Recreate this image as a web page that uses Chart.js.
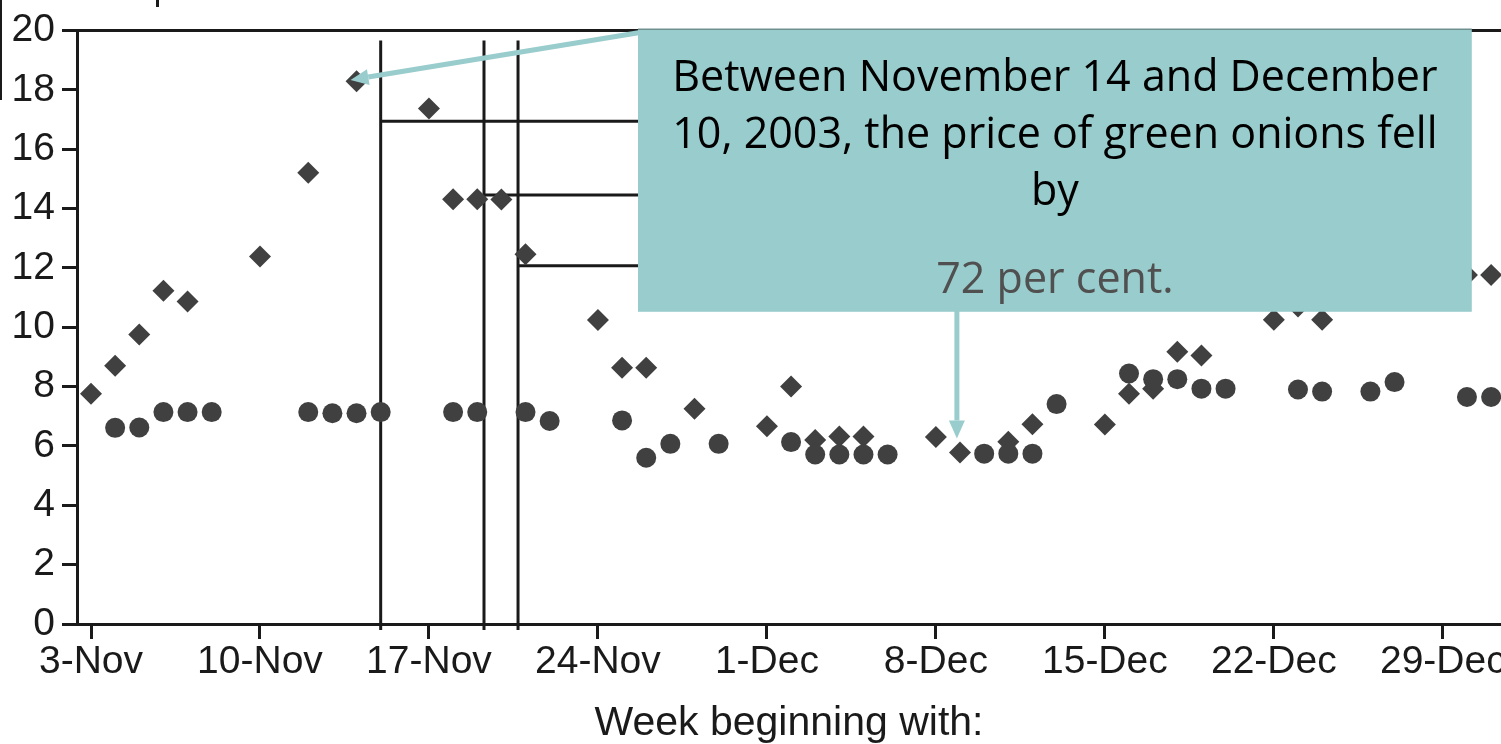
<!DOCTYPE html>
<html>
<head>
<meta charset="utf-8">
<title>Green onion prices</title>
<script src="https://cdn.jsdelivr.net/npm/chart.js@4"></script>
<style>
  html, body { margin: 0; padding: 0; background: #fff; }
  #wrap { width: 1501px; height: 744px; position: relative; overflow: hidden; }
</style>
</head>
<body>
<div id="wrap"><canvas id="onionChart"></canvas></div>
<script>
// daily green onion prices, Nov 3 - Dec 31 2003
const startDate = '2003-11-03';

const diamondDates = [
  '2003-11-03', '2003-11-04', '2003-11-05', '2003-11-06', '2003-11-07', '2003-11-10',
  '2003-11-12', '2003-11-14', '2003-11-17', '2003-11-18', '2003-11-19', '2003-11-20',
  '2003-11-21', '2003-11-24', '2003-11-25', '2003-11-26', '2003-11-28', '2003-12-01',
  '2003-12-02', '2003-12-03', '2003-12-04', '2003-12-05', '2003-12-08', '2003-12-09',
  '2003-12-11', '2003-12-12', '2003-12-15', '2003-12-16', '2003-12-17', '2003-12-18',
  '2003-12-19', '2003-12-22', '2003-12-23', '2003-12-24', '2003-12-30', '2003-12-31'
];
const diamondPrices = [
  7.76, 8.7, 9.75, 11.23, 10.87, 12.38,
  15.2, 18.29, 17.37, 14.31, 14.31, 14.3,
  12.46, 10.24, 8.63, 8.63, 7.25, 6.66,
  8.0, 6.2, 6.32, 6.32, 6.3, 5.78,
  6.14, 6.73, 6.72, 7.76, 7.93, 9.17,
  9.05, 10.25, 10.7, 10.25, 11.76, 11.76
];

const circleDates = [
  '2003-11-04', '2003-11-05', '2003-11-06', '2003-11-07', '2003-11-08', '2003-11-12',
  '2003-11-13', '2003-11-14', '2003-11-15', '2003-11-18', '2003-11-19', '2003-11-21',
  '2003-11-22', '2003-11-25', '2003-11-26', '2003-11-27', '2003-11-29', '2003-12-02',
  '2003-12-03', '2003-12-04', '2003-12-05', '2003-12-06', '2003-12-10', '2003-12-11',
  '2003-12-12', '2003-12-13', '2003-12-16', '2003-12-17', '2003-12-18', '2003-12-19',
  '2003-12-20', '2003-12-23', '2003-12-24', '2003-12-26', '2003-12-27', '2003-12-30',
  '2003-12-31'
];
const circlePrices = [
  6.61, 6.62, 7.14, 7.14, 7.14, 7.14,
  7.1, 7.1, 7.14, 7.14, 7.14, 7.14,
  6.84, 6.86, 5.6, 6.07, 6.07, 6.13,
  5.71, 5.71, 5.71, 5.71, 5.74, 5.74,
  5.74, 7.41, 8.44, 8.25, 8.25, 7.93,
  7.93, 7.9, 7.83, 7.83, 8.15, 7.65,
  7.65
];

const weekLabels = ['3-Nov', '10-Nov', '17-Nov', '24-Nov', '1-Dec', '8-Dec', '15-Dec', '22-Dec', '29-Dec'];
const xTitle = 'Week beginning with:';

const calloutLines = ['Between November 14 and December', '10, 2003, the price of green onions fell', 'by'];
const calloutFigure = '72 per cent.';

// day number counted from Nov 3
function dayOf(d) {
  return (Date.parse(d) - Date.parse(startDate)) / 86400000;
}

const diamondPoints = diamondDates.map((d, i) => ({ x: dayOf(d), y: diamondPrices[i] }));
const circlePoints = circleDates.map((d, i) => ({ x: dayOf(d), y: circlePrices[i] }));

const ink = '#1a1a1a';
const dots = '#404040';
const teal = '#99cccc';
const axisFont = { family: '"Liberation Sans", Arial, sans-serif', size: 39 };
const titleFont = { family: '"Liberation Sans", Arial, sans-serif', size: 41 };

// stray table rules and callout, placed in data units
const ruleVerticals = [
  { day: 12.0, from: -0.2, to: 19.66 },
  { day: 16.28, from: -0.2, to: 19.66 },
  { day: 17.69, from: -0.2, to: 19.66 }
];
const ruleHorizontals = [
  { price: 16.94, from: 12.0, to: 24 },
  { price: 14.45, from: 16.28, to: 24 },
  { price: 12.07, from: 17.69, to: 24 }
];
const calloutBox = { x1: 22.66, x2: 57.2, y1: 10.52, y2: 20.03 };

function arrow(ctx, x1, y1, x2, y2) {
  const ang = Math.atan2(y2 - y1, x2 - x1);
  const len = 18, half = 8;
  const bx = x2 - Math.cos(ang) * len, by = y2 - Math.sin(ang) * len;
  ctx.beginPath();
  ctx.moveTo(x1, y1);
  ctx.lineTo(bx, by);
  ctx.stroke();
  ctx.beginPath();
  ctx.moveTo(x2, y2);
  ctx.lineTo(bx + Math.sin(ang) * half, by - Math.cos(ang) * half);
  ctx.lineTo(bx - Math.sin(ang) * half, by + Math.cos(ang) * half);
  ctx.closePath();
  ctx.fill();
}

const overlay = {
  id: 'overlay',
  beforeDatasetsDraw(chart) {
    const { ctx, scales: { x, y } } = chart;
    ctx.save();
    ctx.strokeStyle = ink;
    ctx.lineWidth = 3;
    ruleVerticals.forEach(r => {
      const px = x.getPixelForValue(r.day);
      ctx.beginPath();
      ctx.moveTo(px, y.getPixelForValue(r.from));
      ctx.lineTo(px, y.getPixelForValue(r.to));
      ctx.stroke();
    });
    ruleHorizontals.forEach(r => {
      const py = y.getPixelForValue(r.price);
      ctx.beginPath();
      ctx.moveTo(x.getPixelForValue(r.from), py);
      ctx.lineTo(x.getPixelForValue(r.to), py);
      ctx.stroke();
    });
    ctx.restore();
  },
  afterDatasetsDraw(chart) {
    const { ctx, scales: { x, y } } = chart;
    const left = x.getPixelForValue(calloutBox.x1);
    const right = x.getPixelForValue(calloutBox.x2);
    const top = y.getPixelForValue(calloutBox.y2);
    const bottom = y.getPixelForValue(calloutBox.y1);
    ctx.save();

    // arrows
    ctx.strokeStyle = teal;
    ctx.fillStyle = teal;
    ctx.lineWidth = 5;
    arrow(ctx, left + 2, y.getPixelForValue(19.93), x.getPixelForValue(10.75), y.getPixelForValue(18.33));
    const ax = x.getPixelForValue(35.87);
    arrow(ctx, ax, bottom - 2, ax, y.getPixelForValue(6.25));

    // box
    ctx.fillStyle = teal;
    ctx.fillRect(left, top, right - left, bottom - top);
    ctx.fillStyle = '#6f8e8e';
    ctx.fillRect(left, top - 1, right - left, 1.5);

    // text
    const cx = (left + right) / 2;
    ctx.textAlign = 'center';
    ctx.textBaseline = 'alphabetic';
    ctx.font = '43px "Open Sans", "Noto Sans", sans-serif';
    ctx.fillStyle = '#000';
    calloutLines.forEach((t, i) => ctx.fillText(t, cx, top + 61 + i * 57));
    ctx.fillStyle = '#505050';
    ctx.fillText(calloutFigure, cx, top + 263);
    ctx.restore();
  },
  afterDraw(chart) {
    // bits of the surrounding page cut off by the crop
    const { ctx } = chart;
    ctx.save();
    ctx.fillStyle = ink;
    ctx.fillRect(0, 0, 2, 100);
    ctx.fillRect(156, 0, 3, 7);
    ctx.restore();
  }
};

const ctx = document.getElementById('onionChart').getContext('2d');
new Chart(ctx, {
  type: 'scatter',
  data: {
    datasets: [
      {
        label: 'circles',
        data: circlePoints,
        pointStyle: 'circle',
        pointRadius: 10,
        backgroundColor: dots,
        borderWidth: 0
      },
      {
        label: 'diamonds',
        data: diamondPoints,
        pointStyle: 'rectRot',
        pointRadius: 11,
        backgroundColor: dots,
        borderWidth: 0
      }
    ]
  },
  options: {
    responsive: true,
    maintainAspectRatio: false,
    animation: false,
    layout: { autoPadding: false, padding: { top: 29, right: 0, bottom: 0, left: 0 } },
    plugins: {
      legend: { display: false },
      tooltip: { enabled: false }
    },
    scales: {
      x: {
        type: 'linear',
        min: -0.58,
        max: 58.41,
        afterBuildTicks: scale => {
          scale.ticks = weekLabels.map((l, i) => ({ value: i * 7 }));
        },
        afterFit: scale => {
          scale.height = 120;
          scale.paddingLeft = 0;
          scale.paddingRight = 0;
        },
        ticks: {
          callback: (v, i) => weekLabels[i],
          autoSkip: false,
          maxRotation: 0,
          padding: 0,
          font: axisFont,
          color: ink
        },
        grid: { color: 'transparent', tickColor: ink, tickLength: 15, lineWidth: 3 },
        border: { color: ink, width: 3 },
        title: { display: true, text: xTitle, font: titleFont, color: ink, padding: { top: 0, bottom: -4 } }
      },
      y: {
        min: 0,
        max: 20,
        afterFit: scale => { scale.width = 77; },
        ticks: { stepSize: 2, padding: 7, font: axisFont, color: ink },
        grid: {
          color: c => (c.tick && c.tick.value === 20 ? ink : 'transparent'),
          tickColor: ink,
          tickLength: 15,
          lineWidth: 3
        },
        border: { color: ink, width: 3 }
      }
    }
  },
  plugins: [overlay]
});
</script>
</body>
</html>
